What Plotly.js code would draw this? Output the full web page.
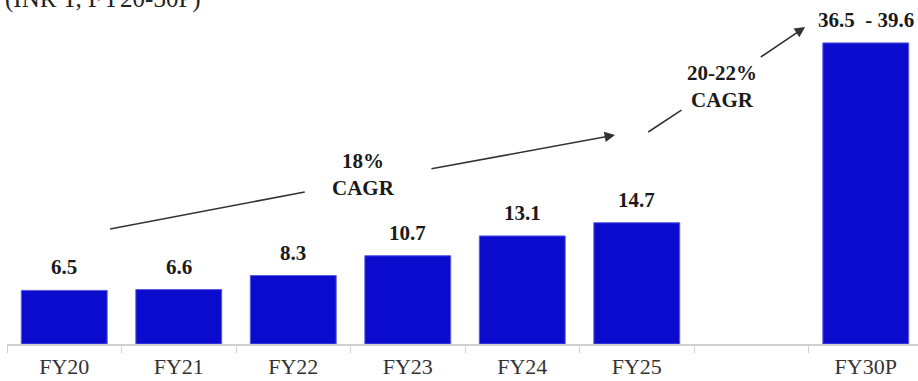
<!DOCTYPE html>
<html>
<head>
<meta charset="utf-8">
<script src="https://cdn.plot.ly/plotly-3.0.1.min.js"></script>
<style>
html,body{margin:0;padding:0;background:#fff;overflow:hidden;}
#chart{width:918px;height:381px;}
</style>
</head>
<body>
<div id="chart"></div>
<script>
// ---- data ----
var categories = ['FY20','FY21','FY22','FY23','FY24','FY25',' ','FY30P'];
var values     = [6.5, 6.6, 8.3, 10.7, 13.1, 14.7, null, 36.5];
var highValues = [null, null, null, null, null, null, null, 39.6];
var titleText  = '(INR T, FY20-30P)';
var cagrLabels = ['18%<br>CAGR', '20-22%<br>CAGR'];

var SERIF = 'Liberation Serif';
var barColor = '#0b0bce';

var labels = values.map(function(v, i){
  if (v === null) return '';
  var s = v.toFixed(1);
  if (highValues[i] !== null) s += '\u00a0 - ' + highValues[i].toFixed(1);
  return s;
});

var trace = {
  type: 'bar',
  x: categories,
  y: values,
  marker: {color: barColor, line: {color: '#5b5be6', width: 1}},
  hoverinfo: 'none',
  cliponaxis: false
};

var annotations = [];
// value labels
categories.forEach(function(c, i){
  if (values[i] === null) return;
  annotations.push({
    x: c, y: values[i], xref: 'x', yref: 'y',
    text: '<b>' + labels[i] + '</b>',
    showarrow: false, yanchor: 'bottom', yshift: 9,
    font: {family: SERIF, size: 21, color: '#1a1a1a'}
  });
});
// CAGR texts (positions in category-index / value units)
annotations.push({x: 2.61, y: 20.6, xref: 'x', yref: 'y', text: '<b>' + cagrLabels[0] + '</b>',
  showarrow: false, font: {family: SERIF, size: 21, color: '#1a1a1a'}});
annotations.push({x: 5.745, y: 31.2, xref: 'x', yref: 'y', text: '<b>' + cagrLabels[1] + '</b>',
  showarrow: false, font: {family: SERIF, size: 21, color: '#1a1a1a'}});
// arrow segments with heads
annotations.push({x: 4.81, y: 25.33, ax: 3.194, ay: 21.21, xref: 'x', yref: 'y', axref: 'x', ayref: 'y',
  text: '', showarrow: true, arrowhead: 2, arrowsize: 1.3, arrowwidth: 1.6, arrowcolor: '#333', standoff: 0});
annotations.push({x: 6.47, y: 38.42, ax: 6.07, ay: 34.67, xref: 'x', yref: 'y', axref: 'x', ayref: 'y',
  text: '', showarrow: true, arrowhead: 2, arrowsize: 1.3, arrowwidth: 1.6, arrowcolor: '#333', standoff: 0});
// title (partially cut off at the top, as in the reference)
annotations.push({x: 0, y: 1, xref: 'paper', yref: 'paper', xanchor: 'left', yanchor: 'middle',
  xshift: -4, yshift: 1, text: titleText, showarrow: false,
  font: {family: SERIF, size: 25, color: '#222'}});

var shapes = [
  {type: 'line', xref: 'x', yref: 'y', x0: 0.4, y0: 13.94, x1: 2.10, y1: 18.42, line: {color: '#333', width: 1.6}},
  {type: 'line', xref: 'x', yref: 'y', x0: 5.10, y0: 25.7, x1: 5.39, y1: 28.36, line: {color: '#333', width: 1.6}}
];

var layout = {
  width: 918, height: 381,
  margin: {l: 7, r: 0, t: 0, b: 37},
  paper_bgcolor: '#fff', plot_bgcolor: '#fff',
  font: {family: SERIF},
  showlegend: false,
  bargap: 0.25,
  xaxis: {
    type: 'category',
    categoryorder: 'array', categoryarray: categories,
    range: [-0.5, 7.456],
    showline: true, linecolor: '#d0d0d0', linewidth: 1.5,
    ticks: 'outside', tickson: 'boundaries', ticklen: 7, tickcolor: '#d0d0d0', tickwidth: 1,
    ticklabelstandoff: 2,
    showgrid: false, zeroline: false,
    tickfont: {family: SERIF, size: 22, color: '#333'}
  },
  yaxis: {visible: false, range: [0, 41.7], fixedrange: true},
  annotations: annotations,
  shapes: shapes
};

Plotly.newPlot('chart', [trace], layout, {displayModeBar: false, staticPlot: true});
</script>
</body>
</html>
